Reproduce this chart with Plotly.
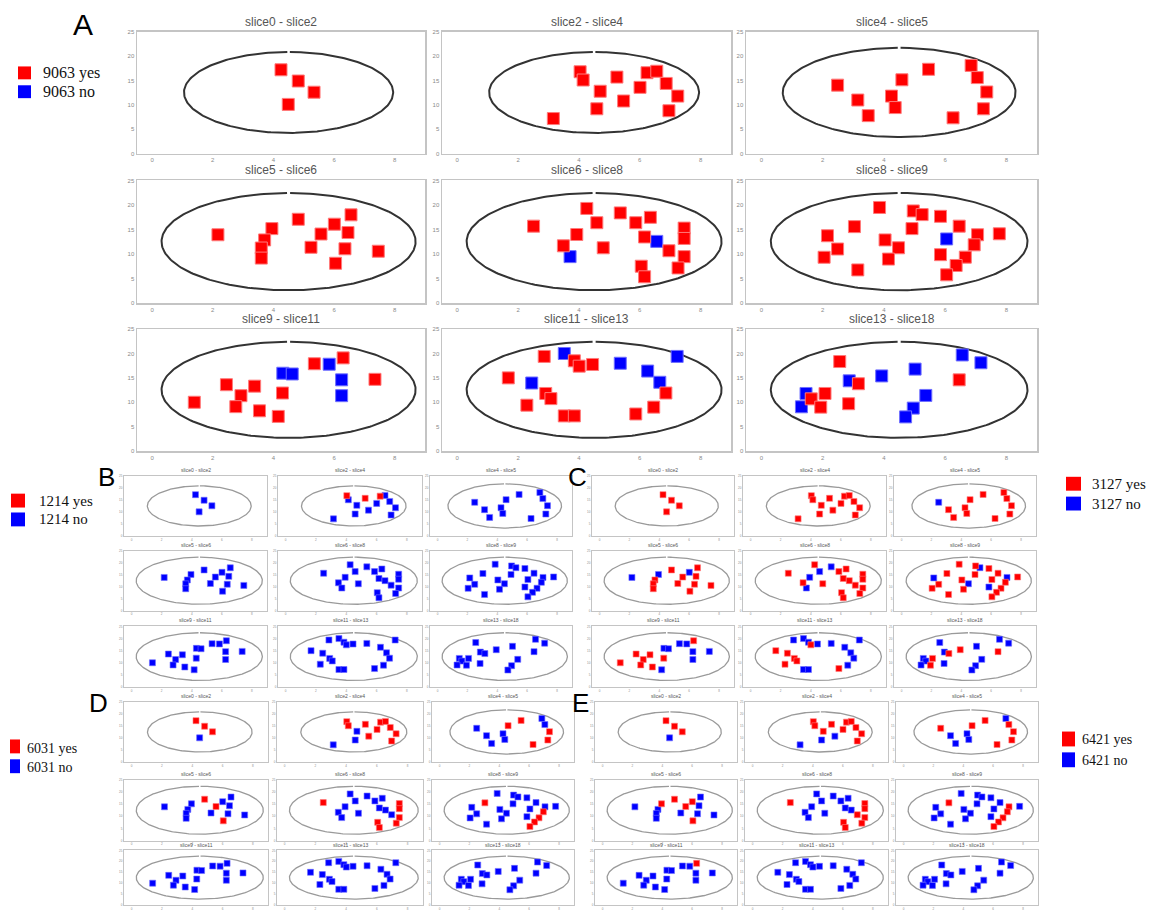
import numpy as np
import plotly.graph_objects as go

W, H = 1157, 911

SLICE_TITLES = ["slice0 - slice2", "slice2 - slice4", "slice4 - slice5",
                "slice5 - slice6", "slice6 - slice8", "slice8 - slice9",
                "slice9 - slice11", "slice11 - slice13", "slice13 - slice18"]

# cell positions per slice (shared by all genes)
S0_X = [4.25, 4.82, 5.34, 4.49]
S0_Y = [17.2, 14.9, 12.6, 10.1]
S1_X = [4.04, 4.14, 4.70, 4.59, 3.16, 5.25, 5.47, 6.01, 6.24, 6.56, 6.87, 7.25, 6.96]
S1_Y = [16.8, 15.1, 12.8, 9.2, 7.2, 15.7, 10.8, 13.6, 16.6, 16.9, 14.4, 11.8, 8.8]
S2_X = [2.49, 3.15, 3.49, 4.25, 4.37, 4.59, 5.46, 6.26, 6.85, 7.05, 7.36, 7.25]
S2_Y = [14.05, 11.0, 7.8, 11.8, 9.45, 15.15, 17.3, 7.35, 18.1, 15.6, 12.65, 9.2]
S3_X = [2.17, 3.95, 3.71, 3.60, 3.60, 4.82, 5.24, 5.57, 6.01, 6.46, 6.56, 6.36, 6.05, 7.46]
S3_Y = [13.95, 15.2, 12.9, 11.25, 9.2, 17.1, 11.4, 14.1, 16.1, 14.4, 18.0, 11.1, 8.15, 10.6]
S4_X = [2.51, 4.26, 4.59, 3.93, 3.49, 3.71, 4.80, 5.36, 5.87, 6.35, 6.16, 6.56, 6.96,
        7.46, 7.46, 7.46, 6.05, 6.16, 7.26]
S4_Y = [15.7, 19.3, 16.4, 14.0, 11.7, 9.5, 11.3, 18.4, 16.4, 17.5, 13.5, 12.6, 10.7,
        15.3, 13.2, 9.5, 7.55, 5.4, 7.2]
S5_X = [2.16, 2.49, 2.05, 3.04, 3.15, 3.86, 4.04, 4.48, 4.15, 4.96, 5.25, 4.92, 5.85,
        6.46, 6.05, 7.06, 7.77, 6.95, 5.85, 6.66, 6.36, 6.05]
S5_Y = [13.75, 11.05, 9.37, 15.6, 6.8, 19.5, 12.9, 11.3, 9.0, 18.8, 18.05, 15.2, 17.7,
        15.7, 13.1, 13.95, 14.15, 11.9, 9.9, 9.4, 7.7, 5.8]
S6_X = [1.39, 2.45, 2.93, 2.76, 3.38, 3.54, 4.16, 4.30, 4.31, 4.62, 5.35, 5.84, 6.30,
        6.25, 6.25, 7.35]
S6_Y = [10.0, 13.6, 11.35, 9.1, 13.3, 8.25, 7.1, 11.9, 15.95, 15.8, 17.9, 17.8, 19.1,
        14.6, 11.35, 14.7]
S7_X = [1.68, 2.45, 2.86, 3.52, 3.85, 4.01, 4.45, 2.91, 3.08, 2.29, 3.52, 3.85, 5.36,
        6.26, 6.66, 7.23, 6.86, 6.46, 5.87]
S7_Y = [15.0, 13.95, 19.4, 20.0, 18.5, 17.4, 17.75, 11.8, 10.75, 9.4, 7.2, 7.2, 18.0,
        16.4, 14.1, 19.4, 11.9, 9.0, 7.6]
S8_X = [2.56, 2.87, 3.17, 1.46, 1.63, 1.31, 1.94, 2.08, 2.85, 3.93, 5.02, 5.37, 4.96,
        4.71, 6.56, 7.17, 6.46]
S8_Y = [18.35, 14.4, 13.8, 11.8, 10.7, 9.07, 9.0, 11.8, 9.7, 15.4, 16.8, 11.4, 8.8,
        7.0, 19.7, 18.1, 14.6]

SLICE_X = [S0_X, S1_X, S2_X, S3_X, S4_X, S5_X, S6_X, S7_X, S8_X]
SLICE_Y = [S0_Y, S1_Y, S2_Y, S3_Y, S4_Y, S5_Y, S6_Y, S7_Y, S8_Y]

# outline (embryo) half-axes per slice
OUTLINE_A = [3.45, 3.45, 3.8, 4.19, 4.19, 4.19, 4.19, 4.19, 4.19]
OUTLINE_B = [8.3, 8.3, 9.15, 9.9, 9.9, 9.9, 9.85, 9.85, 9.85]
OUTLINE_CX, OUTLINE_CY = 4.5, 12.55

# expression status per slice: 1 = yes (red), 0 = no (blue)
GENE_9063 = ["1111", "1111111111111", "111111111111", "11111111111111",
             "1111101111101111111", "1111111111111101111111", "1111111100101001",
             "1010111111110000111", "10101011100000001"]
GENE_1214 = ["0000", "1000010010000", "000000000000", "00000000000000",
             "0000000000000000000", "0000000000000000000000", "0000000000000000",
             "0000000000000000000", "00000000000000000"]
GENE_3127 = ["1111", "1111111111111", "011111111111", "00111111011111",
             "1100101011111111111", "0111111011011110110111", "1111110100001000",
             "1100010111000000001", "00100011010000001"]
GENE_6031 = ["1110", "1100011111111", "000001110011", "00000101000010",
             "1000000000000111111", "0001000000000000010111", "0000000000000000",
             "0000000000000000000", "00000000000000000"]
GENE_6421 = ["1110", "1110010111111", "100001110111", "01000101100010",
             "1000000000001111111", "0001000000000001010111", "0000000000001000",
             "0000000000000000000", "00000000000000000"]

X_TICKS = [0, 2, 4, 6, 8]
Y_TICKS = [0, 5, 10, 15, 20, 25]

RED, BLUE = "#ff0000", "#0000ff"

PANELS = [
    dict(letter="A", gene="9063", status=GENE_9063, big=True,
         cols=[(137, 425), (442, 731), (746, 1037)],
         rows=[(29, 152), (179, 303), (329, 452)],
         letter_xy=(83, 22), letter_size=30,
         leg=dict(sq=[(18, 31, 64, 77), (18, 31, 83, 96)], tx=41, ty=[70.5, 89.5], size=16)),
    dict(letter="B", gene="1214", status=GENE_1214, big=False,
         cols=[(124, 267), (278, 422), (430, 572)],
         rows=[(477, 538), (553, 613), (629, 690)],
         letter_xy=(106, 478), letter_size=26,
         leg=dict(sq=[(11, 25, 495, 509), (11, 25, 514, 528)], tx=37, ty=[502, 521], size=15)),
    dict(letter="C", gene="3127", status=GENE_3127, big=False,
         cols=[(592, 734), (743, 886), (894, 1036)],
         rows=[(477, 538), (553, 613), (629, 690)],
         letter_xy=(577, 478), letter_size=26,
         leg=dict(sq=[(1066, 1081, 478, 492), (1066, 1081, 498, 512)], tx=1090, ty=[485, 505], size=15)),
    dict(letter="D", gene="6031", status=GENE_6031, big=False,
         cols=[(124, 268), (277, 423), (432, 574)],
         rows=[(705, 766), (784, 845), (855, 910)],
         letter_xy=(98, 706), letter_size=26,
         leg=dict(sq=[(10, 20, 743, 757), (10, 20, 763, 777)], tx=25, ty=[752, 771], size=14)),
    dict(letter="E", gene="6421", status=GENE_6421, big=False,
         cols=[(595, 737), (745, 888), (896, 1038)],
         rows=[(705, 766), (784, 845), (855, 910)],
         letter_xy=(580, 706), letter_size=26,
         leg=dict(sq=[(1062, 1075, 735, 750), (1062, 1075, 756, 771)], tx=1080, ty=[743, 764], size=14)),
]

fig = go.Figure()
layout_axes = {}
annotations = []
shapes = []

gap = 0.012
t = np.linspace(np.pi / 2 + gap, np.pi / 2 + 2 * np.pi - gap, 240)

k = 0
for p in PANELS:
    big = p["big"]
    ms = 12 if big else 6
    outline_col = "#333333" if big else "#9a9a9a"
    outline_w = 2.0 if big else 1.3
    frame_col = "#c4c4c4"
    tick_size = 6 if big else 3
    title_size = 12 if big else 5
    for r in range(3):
        for c in range(3):
            s = r * 3 + c
            k += 1
            xa = "x" if k == 1 else f"x{k}"
            ya = "y" if k == 1 else f"y{k}"
            xname = "xaxis" if k == 1 else f"xaxis{k}"
            yname = "yaxis" if k == 1 else f"yaxis{k}"
            x0, x1 = p["cols"][c]
            y0, y1 = p["rows"][r]
            layout_axes[xname] = dict(
                domain=[x0 / W, x1 / W], range=[-0.5, 9], anchor=ya,
                tickvals=X_TICKS, showgrid=False, zeroline=False,
                showline=True, mirror=True, linecolor=frame_col,
                linewidth=1.5 if big else 1, ticks="",
                tickfont=dict(size=tick_size, color="#8a8a8a", family="Liberation Sans"),
                fixedrange=True)
            layout_axes[yname] = dict(
                domain=[1 - y1 / H, 1 - y0 / H], range=[0, 25], anchor=xa,
                tickvals=Y_TICKS, showgrid=False, zeroline=False,
                showline=True, mirror=True, linecolor=frame_col,
                linewidth=1.5 if big else 1, ticks="",
                tickfont=dict(size=tick_size, color="#8a8a8a", family="Liberation Sans"),
                fixedrange=True)
            ex = OUTLINE_CX + OUTLINE_A[s] * np.cos(t)
            ey = OUTLINE_CY + OUTLINE_B[s] * np.sin(t)
            fig.add_trace(go.Scatter(x=ex, y=ey, mode="lines", xaxis=xa, yaxis=ya,
                                     line=dict(color=outline_col, width=outline_w),
                                     hoverinfo="skip", showlegend=False))
            xs = np.array(SLICE_X[s])
            ys = np.array(SLICE_Y[s])
            st = np.array([int(ch) for ch in p["status"][s]])
            assert len(st) == len(xs) == len(ys)
            yes = st == 1
            fig.add_trace(go.Scatter(
                x=xs[~yes], y=ys[~yes], mode="markers", xaxis=xa, yaxis=ya,
                name=p["gene"] + " no", showlegend=False,
                marker=dict(symbol="square", size=ms, color=BLUE,
                            line=dict(color="#6f6fff", width=1 if big else 0.6))))
            fig.add_trace(go.Scatter(
                x=xs[yes], y=ys[yes], mode="markers", xaxis=xa, yaxis=ya,
                name=p["gene"] + " yes", showlegend=False,
                marker=dict(symbol="square", size=ms, color=RED,
                            line=dict(color="#ff7a7a", width=1 if big else 0.6))))
            annotations.append(dict(
                text=SLICE_TITLES[s], x=(x0 + x1) / 2 / W, y=1 - (y0 - 1) / H,
                xref="paper", yref="paper", showarrow=False,
                xanchor="center", yanchor="bottom",
                font=dict(size=title_size, color="#555555", family="Liberation Sans")))
    # panel letter
    lx, ly = p["letter_xy"]
    annotations.append(dict(text=p["letter"], x=lx / W, y=1 - ly / H, xref="paper", yref="paper",
                            showarrow=False, xanchor="center", yanchor="middle",
                            font=dict(size=p["letter_size"], color="#000000", family="Liberation Sans")))
    # legend
    leg = p["leg"]
    for (sx0, sx1, sy0, sy1), col, lab, ty in zip(leg["sq"], [RED, BLUE],
                                                 [p["gene"] + " yes", p["gene"] + " no"], leg["ty"]):
        shapes.append(dict(type="rect", xref="paper", yref="paper",
                           x0=sx0 / W, x1=sx1 / W, y0=1 - sy1 / H, y1=1 - sy0 / H,
                           fillcolor=col, line=dict(width=0)))
        annotations.append(dict(text=lab, x=leg["tx"] / W, y=1 - ty / H, xref="paper", yref="paper",
                                showarrow=False, xanchor="left", yanchor="middle",
                                font=dict(size=leg["size"], color="#111111", family="Liberation Serif")))

fig.update_layout(
    width=W, height=H, margin=dict(l=0, r=0, t=0, b=0),
    paper_bgcolor="white", plot_bgcolor="white",
    annotations=annotations, shapes=shapes, showlegend=False,
    **layout_axes)

fig.write_html("out.html",
               config={"displayModeBar": False, "staticPlot": True},
               post_script="document.body.style.margin='0px';document.body.style.overflow='hidden';")
